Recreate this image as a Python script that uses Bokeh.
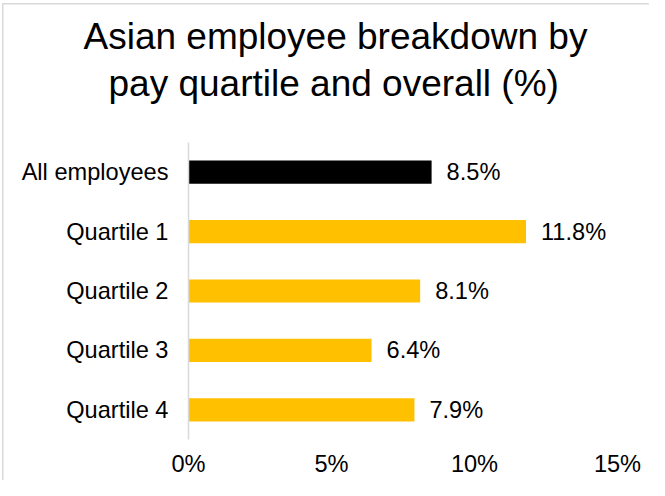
from bokeh.plotting import figure
from bokeh.models import FactorRange, Range1d, FixedTicker, Title, ColumnDataSource
from bokeh.core.properties import value
from bokeh.embed import file_html
from bokeh.resources import INLINE

categories = ["All employees", "Quartile 1", "Quartile 2", "Quartile 3", "Quartile 4"]
values = [8.5, 11.8, 8.1, 6.4, 7.9]
value_labels = ["8.5%", "11.8%", "8.1%", "6.4%", "7.9%"]
bar_colors = ["#000000", "#FFC000", "#FFC000", "#FFC000", "#FFC000"]
x_ticks = [0, 5, 10, 15]
x_tick_labels = ["0%", "5%", "10%", "15%"]
title_lines = ["Asian employee breakdown by", "pay quartile and overall (%)"]

FONT = "Liberation Sans"
LABEL_SIZE = "23.6px"

src = ColumnDataSource(dict(cat=categories, val=values, lab=value_labels, col=bar_colors))

p = figure(
    width=649, height=480, title=None,
    y_range=FactorRange(factors=list(reversed(categories))),
    x_range=Range1d(0, 15),
    output_backend="svg", toolbar_location=None,
    min_border_left=188, min_border_right=32, min_border_top=142, min_border_bottom=41,
)
p.outline_line_color = None
p.background_fill_color = "white"
p.border_fill_color = "white"
p.border_fill_alpha = 0.0
p.styles = {
    "background-color": "white",
    "background-image": "linear-gradient(#d9d9d9, #d9d9d9), linear-gradient(#d9d9d9, #d9d9d9)",
    "background-size": "1.5px 100%, 100% 1.5px",
    "background-position": "2px 3px, 2px 3px",
    "background-repeat": "no-repeat",
}
p.grid.grid_line_color = None

p.hbar(y="cat", right="val", left=0, height=0.39, fill_color="col", line_color=None, source=src)
p.text(x="val", y="cat", text="lab", x_offset=15, text_baseline="middle", text_align="left",
       text_font=value(FONT), text_font_size=LABEL_SIZE, text_color="#000000", source=src)

# y axis
ya = p.yaxis[0]
ya.axis_line_color = "#d9d9d9"
ya.axis_line_width = 1.5
ya.major_tick_line_color = None
ya.minor_tick_line_color = None
ya.major_tick_out = 0
ya.major_tick_in = 0
ya.major_label_standoff = 20
ya.major_label_text_font = FONT
ya.major_label_text_font_size = LABEL_SIZE
ya.major_label_text_color = "#000000"

# x axis
xa = p.xaxis[0]
xa.axis_line_color = None
xa.major_tick_line_color = None
xa.minor_tick_line_color = None
xa.major_tick_out = 0
xa.major_tick_in = 0
xa.ticker = FixedTicker(ticks=x_ticks)
xa.major_label_overrides = {t: l for t, l in zip(x_ticks, x_tick_labels)}
xa.major_label_standoff = 11
xa.major_label_text_font = FONT
xa.major_label_text_font_size = LABEL_SIZE
xa.major_label_text_color = "#000000"

# title: spacer, then two lines (inner first)
p.add_layout(Title(text=" ", standoff=34, text_font_size="1px"), "above")
p.add_layout(Title(text=title_lines[1], align="left", offset=-80, standoff=4,
                   text_font=FONT, text_font_size="37px", text_font_style="normal",
                   text_color="#000000"), "above")
p.add_layout(Title(text=title_lines[0], align="left", offset=-105, standoff=4,
                   text_font=FONT, text_font_size="37px", text_font_style="normal",
                   text_color="#000000"), "above")

open("out.html", "w").write(file_html(p, INLINE))
